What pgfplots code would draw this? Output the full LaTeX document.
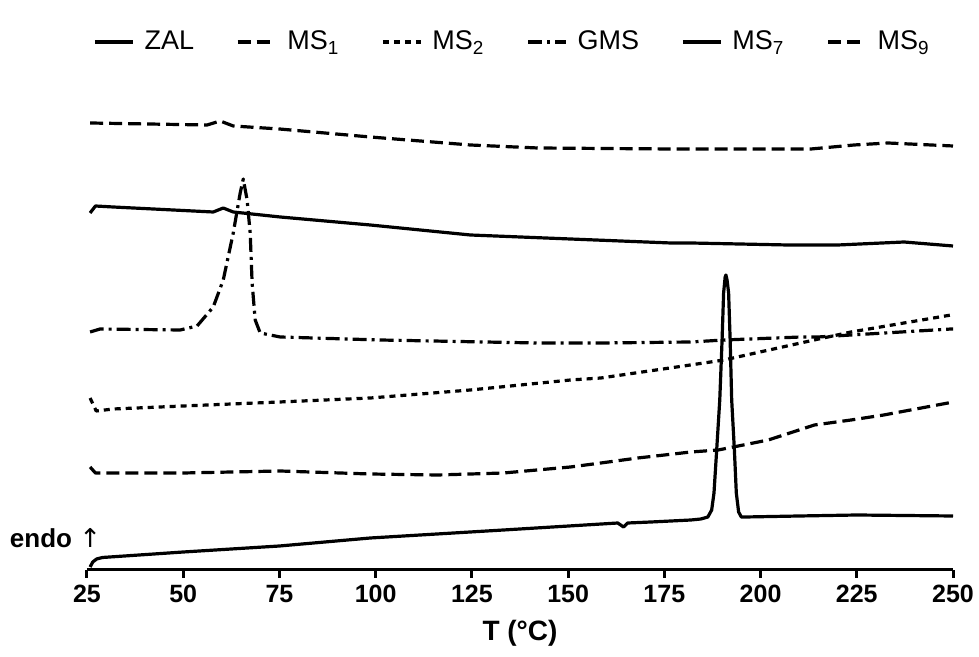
\documentclass[border=0pt]{standalone}
\usepackage{fontspec}
\setmainfont{Liberation Sans}
\newfontfamily\arrowfont{DejaVu Sans}
\usepackage{pgfplots}
\pgfplotsset{compat=1.18}

\begin{document}
\begin{tikzpicture}
\begin{axis}[
  scale only axis,
  width=433pt, height=240pt,
  xmin=25, xmax=250, ymin=0, ymax=480,
  axis x line=bottom, hide y axis,
  axis line style={-, line width=1.5pt},
  xtick={25,50,...,250},
  xtick align=outside,
  major tick length=4pt,
  tick style={line width=1.5pt, black},
  /pgf/number format/assume math mode=true,
  xticklabel style={font=\bfseries\fontsize{12.5}{14}\selectfont},
  xlabel={\textbf{T (°C)}},
  xlabel style={font=\fontsize{14}{16}\selectfont, yshift=-2pt},
  clip=false,
  no markers,
  legend columns=-1,
  legend style={draw=none, at={(0.4925,1.1)}, anchor=center,
    font=\fontsize{13.5}{15}\selectfont,
    /tikz/every odd column/.append style={column sep=3pt},
    /tikz/every even column/.append style={column sep=19pt}},
  legend image code/.code={\draw[#1] (0pt,0pt) -- (19pt,0pt);},
  every axis plot/.append style={line width=1.6pt, line join=round},
]
% ZAL
\addplot[black, solid] coordinates {
  (25.8,3) (26.5,8) (27.5,11) (29,12.5) (50,18) (75,24) (98.6,32)
  (133.2,40) (162.9,47) (164.4,43) (165.5,47) (171.5,48) (181.9,50)
  (184.5,51) (186.3,53) (187.3,60) (187.9,77) (188.6,120) (189.4,170)
  (190.0,230) (190.4,277) (190.8,293) (191.0,295) (191.3,290) (191.7,277)
  (192.1,230) (192.5,170) (193.2,120) (193.7,77) (194.3,58) (195.0,53)
  (196,53) (210,54) (225,55) (250,54)
};
% MS1
\addplot[black, dash pattern=on 6.5pt off 3pt] coordinates {
  (25.8,103) (27.2,97) (30,97) (50,97) (75.2,99) (98.6,96) (116.1,95)
  (133.2,97) (150.6,103) (158.5,107) (168.1,112) (181.9,118) (189,120)
  (202,130) (214,145) (223.5,150) (232,155) (248.7,167) (250,168)
};
% MS2
\addplot[black, dash pattern=on 3pt off 2.5pt] coordinates {
  (25.8,172) (27.4,159) (31.8,161) (50,164) (75,168) (98.6,172)
  (124.6,180) (150.6,190) (158.5,192) (180,204) (190.5,210)
  (213.9,230) (223.5,238) (249.5,255) (250,255)
};
% GMS
\addplot[black, dash pattern=on 7pt off 2.5pt on 1.5pt off 2.5pt] coordinates {
  (25.8,238) (28.4,241) (49.2,240) (53.6,244) (57.8,263) (60.4,290)
  (63,337) (64.8,377) (65.6,391) (66.6,370) (67.4,337) (67.9,287)
  (68.7,250) (70,237) (75.2,233) (101.2,230) (142.1,227) (158.5,227)
  (181.9,228) (190.5,230) (210.5,233) (214.9,233) (249.5,241) (250,241)
};
% MS7
\addplot[black, solid] coordinates {
  (25.8,357) (27.2,364) (31.8,363) (57.8,358) (60.4,362) (63,358)
  (75.2,353) (98.6,345) (124.6,335) (150.6,331) (176.7,327) (181.9,327)
  (207.1,325) (220.1,325) (237.3,328) (250,324)
};
% MS9
\addplot[black, dash pattern=on 6.5pt off 3pt] coordinates {
  (25.8,447) (56.2,445) (59.6,449) (63,444) (75,441) (98.6,433) (124.6,425)
  (142.1,422) (176.7,421) (213.1,421) (224.3,425) (233.1,427) (250,424)
};
\legend{ZAL, MS\textsubscript{1}, MS\textsubscript{2}, GMS, MS\textsubscript{7}, MS\textsubscript{9}}
\node[anchor=base east, font=\bfseries\fontsize{13}{15}\selectfont]
  at (axis cs:30.5,22) {endo {\arrowfont\mdseries ↑}};
\end{axis}
\pgfresetboundingbox
\path (-43.5pt,-43.5pt) rectangle (446pt,285pt);
\end{tikzpicture}
\end{document}
